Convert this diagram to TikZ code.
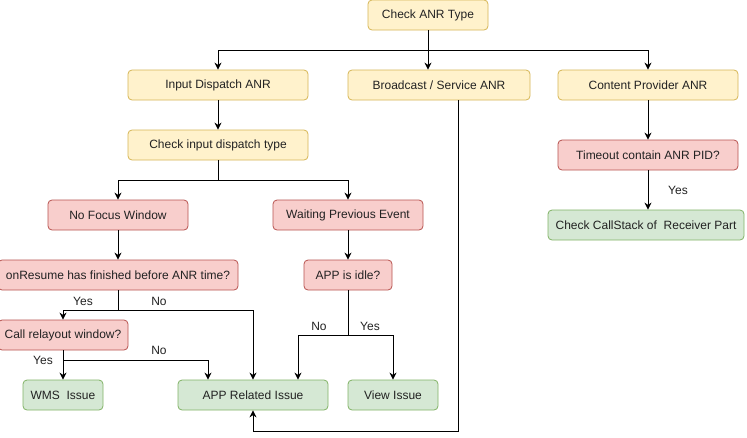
\documentclass[tikz,border=0pt]{standalone}
\usepackage{fontspec}
\setmainfont{Liberation Sans}
\usetikzlibrary{positioning,arrows.meta,calc}
\definecolor{anryellow}{HTML}{FFF2CC}
\definecolor{anryellowdk}{HTML}{D6B656}
\definecolor{anrred}{HTML}{F8CECC}
\definecolor{anrreddk}{HTML}{B85450}
\definecolor{anrgreen}{HTML}{D5E8D4}
\definecolor{anrgreendk}{HTML}{82B366}
\definecolor{ink}{HTML}{222222}

\begin{document}
\begin{tikzpicture}[
  x=1pt, y=-1pt,
  font=\fontsize{12}{14}\selectfont,
  box/.style={rounded corners=4pt, line width=0.8pt, align=center,
              inner sep=2pt, minimum height=30pt, text=ink},
  ybox/.style={box, fill=anryellow, draw=anryellowdk},
  rbox/.style={box, fill=anrred, draw=anrreddk},
  gbox/.style={box, fill=anrgreen, draw=anrgreendk},
  lbl/.style={text=ink, inner sep=1pt},
  flow/.style={-{Stealth[length=7pt,width=7pt]}, line width=0.9pt},
  wire/.style={line width=0.9pt},
]
\useasboundingbox[fill=white] (0,0) rectangle (747,437);

% top level
\node[ybox, minimum width=120pt] (type) at (428,15) {Check ANR Type};
\node[ybox, minimum width=180pt] (inputanr) at (218,85) {Input Dispatch ANR};
\node[ybox, minimum width=182pt] (bcastanr) at (439,85) {Broadcast / Service ANR};
\node[ybox, minimum width=180pt] (cpanr) at (648,85) {Content Provider ANR};

% input dispatch branch
\node[ybox, minimum width=180pt] (inputtype) at (218,145) {Check input dispatch type};
\node[rbox, minimum width=140pt] (nofocus) at (118,215) {No Focus Window};
\node[rbox, minimum width=150pt] (waitprev) at (348,215) {Waiting Previous Event};
\node[rbox, minimum width=240pt] (onresume) at (118,275) {onResume has finished before ANR time?};
\node[rbox, minimum width=88pt] (appidle) at (348,275) {APP is idle?};
\node[rbox, minimum width=130pt] (relayout) at (63,335) {Call relayout window?};
\node[gbox, minimum width=80pt] (wms) at (63,395) {WMS\ \ Issue};
\node[gbox, minimum width=150pt] (apprel) at (253,395) {APP Related Issue};
\node[gbox, minimum width=90pt] (viewiss) at (393,395) {View Issue};

% content provider branch
\node[rbox, minimum width=180pt] (timeout) at (648,155) {Timeout contain ANR PID?};
\node[gbox, minimum width=196pt] (callstack) at (646,225) {Check CallStack of\ \ Receiver Part};

% split points
\coordinate (typesplit) at (428,50);
\coordinate (inputsplit) at (218,180);
\coordinate (resumesplit) at (118,310);
\coordinate (relayoutsplit) at (63,360);
\coordinate (idlesplit) at (348,335);
\coordinate (bcastturn) at (458,431);
\coordinate (apprelleft) at ([xshift=-45pt]apprel.north);
\coordinate (apprelright) at ([xshift=45pt]apprel.north);

\draw[flow] (type) -- (type |- bcastanr.north);
\draw[flow] (typesplit) -| (inputanr);
\draw[flow] (typesplit) -| (cpanr);

\draw[flow] (inputanr) -- (inputtype);
\draw[wire] (inputtype) -- (inputsplit);
\draw[flow] (inputsplit) -| (nofocus);
\draw[flow] (inputsplit) -| (waitprev);

\draw[flow] (nofocus) -- (onresume);
\draw[wire] (onresume) -- (resumesplit);
\draw[flow] (resumesplit) -| (relayout);
\draw[flow] (resumesplit) -| (apprel);
\node[lbl] (resumeyes) at (83,301) {Yes};
\node[lbl] (resumeno) at (159,301) {No};

\draw[flow] (relayout) -- (wms);
\draw[flow] (relayoutsplit) -| (apprelleft);
\node[lbl] (relayoutyes) at (43,360) {Yes};
\node[lbl] (relayoutno) at (159,350) {No};

\draw[flow] (waitprev) -- (appidle);
\draw[wire] (appidle) -- (idlesplit);
\draw[flow] (idlesplit) -| (apprelright);
\draw[flow] (idlesplit) -| (viewiss);
\node[lbl] (idleno) at (319,326) {No};
\node[lbl] (idleyes) at (370,326) {Yes};

\draw[flow] (bcastanr.south -| bcastturn) -- (bcastturn) -| (apprel);

\draw[flow] (cpanr) -- (timeout);
\draw[flow] (timeout.south) -- (timeout.south |- callstack.north);
\node[lbl] (timeoutyes) at (678,190) {Yes};
\end{tikzpicture}
\end{document}
